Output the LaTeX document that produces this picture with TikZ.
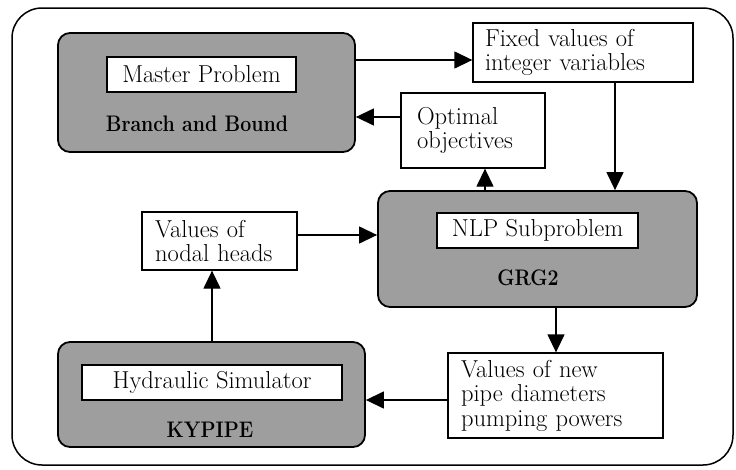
\documentclass[tikz,border=0pt]{standalone}
\usepackage{fontspec}
\setmainfont{Latin Modern Roman}
\usetikzlibrary{arrows.meta}
\tikzset{
  graybox/.style={draw=black, line width=1.8pt, fill=black!38, rounded corners=12pt, inner sep=0pt},
  whitebox/.style={draw=black, line width=1.3pt, fill=white, inner sep=0pt},
  infobox/.style={draw=black, line width=1.3pt, fill=white, inner sep=0pt, align=left},
  boldlbl/.style={font=\fontsize{22.5}{24}\selectfont\bfseries, inner sep=0pt, xscale=0.87, transform shape},
  conn/.style={line width=1.3pt, -{Triangle[length=18pt,width=17pt]}},
  every node/.style={font=\fontsize{24.5}{24.5}\selectfont}
}
\begin{document}
\begin{tikzpicture}[x=1pt,y=-1pt]
\useasboundingbox (0,0) rectangle (736,469);
\draw[line width=1.5pt, rounded corners=30pt] (12,8) rectangle (733,465);
% gray boxes
\node[graybox, minimum width=297pt, minimum height=119pt] (master) at (206.5,92.5) {};
\node[whitebox, minimum width=189pt, minimum height=35pt] (masterin) at (201.5,74.5) {Master Problem};
\node[boldlbl] (bb) at (197,124) {Branch and Bound};

\node[graybox, minimum width=319pt, minimum height=116pt] (nlp) at (537.5,249) {};
\node[whitebox, minimum width=201pt, minimum height=35pt] (nlpin) at (537.5,230.5) {NLP Subproblem};
\node[boldlbl] (grg) at (528,278) {GRG2};

\node[graybox, minimum width=307pt, minimum height=105pt] (hyd) at (211.5,394.5) {};
\node[whitebox, minimum width=260pt, minimum height=35pt] (hydin) at (212,382.5) {Hydraulic Simulator};
\node[boldlbl] (ky) at (210,430) {KYPIPE};

% info boxes
\node[infobox, minimum width=220pt, minimum height=59pt, text width=196pt] (fixed) at (583,52.5) {Fixed values of\\integer variables};
\node[infobox, minimum width=144pt, minimum height=75pt, text width=112pt] (opt) at (473,130.5) {Optimal\\objectives};
\node[infobox, minimum width=155pt, minimum height=58pt, text width=129pt] (nodal) at (219.5,241) {Values of\\nodal heads};
\node[infobox, minimum width=215pt, minimum height=85pt, text width=189pt] (pipe) at (555.5,395.5) {Values of new\\pipe diameters\\pumping powers};

% connectors
\draw[conn] (master.east |- 0,60) -- (fixed.west |- 0,60);
\draw[conn] (opt.west |- 0,117) -- (master.east |- 0,117);
\draw[conn] (fixed.south -| 615,0) -- (nlp.north -| 615,0);
\draw[conn] (nlp.north -| 485,0) -- (opt.south -| 485,0);
\draw[conn] (nodal.east |- 0,235) -- (nlp.west |- 0,235);
\draw[conn] (hyd.north -| 212,0) -- (nodal.south -| 212,0);
\draw[conn] (nlp.south -| 556,0) -- (pipe.north -| 556,0);
\draw[conn] (pipe.west |- 0,400) -- (hyd.east |- 0,400);
\end{tikzpicture}
\end{document}
